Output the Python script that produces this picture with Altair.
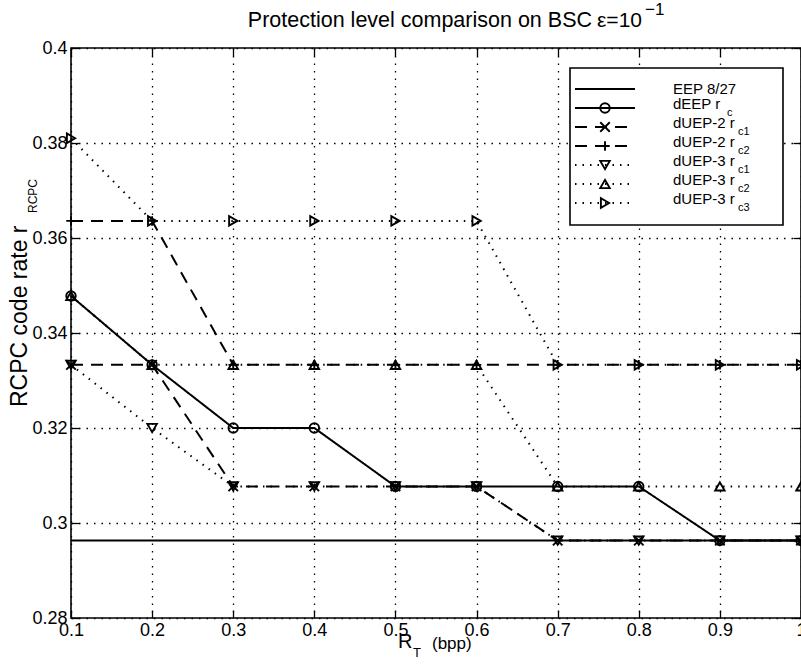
import altair as alt
import pandas as pd

# ---------------- data ----------------
rt = [0.1, 0.2, 0.3, 0.4, 0.5, 0.6, 0.7, 0.8, 0.9, 1.0]
eep_8_27 = [0.2963, 0.2963, 0.2963, 0.2963, 0.2963, 0.2963, 0.2963, 0.2963, 0.2963, 0.2963]
deep_rc = [0.3478, 0.3333, 0.3200, 0.3200, 0.3077, 0.3077, 0.3077, 0.3077, 0.2963, 0.2963]
duep2_rc1 = [0.3333, 0.3333, 0.3077, 0.3077, 0.3077, 0.3077, 0.2963, 0.2963, 0.2963, 0.2963]
duep2_rc2 = [0.3636, 0.3636, 0.3333, 0.3333, 0.3333, 0.3333, 0.3333, 0.3333, 0.3333, 0.3333]
duep3_rc1 = [0.3333, 0.3200, 0.3077, 0.3077, 0.3077, 0.3077, 0.2963, 0.2963, 0.2963, 0.2963]
duep3_rc2 = [0.3478, 0.3333, 0.3333, 0.3333, 0.3333, 0.3333, 0.3077, 0.3077, 0.3077, 0.3077]
duep3_rc3 = [0.3810, 0.3636, 0.3636, 0.3636, 0.3636, 0.3636, 0.3333, 0.3333, 0.3333, 0.3333]

series_names = ["EEP 8/27", "dEEP r_c", "dUEP-2 r_c1", "dUEP-2 r_c2",
                "dUEP-3 r_c1", "dUEP-3 r_c2", "dUEP-3 r_c3"]
series_values = [eep_8_27, deep_rc, duep2_rc1, duep2_rc2, duep3_rc1, duep3_rc2, duep3_rc3]
legend_main = ["EEP 8/27", "dEEP r", "dUEP-2 r", "dUEP-2 r",
               "dUEP-3 r", "dUEP-3 r", "dUEP-3 r"]
legend_sub = ["", "c", "c1", "c2", "c1", "c2", "c3"]

x_ticks = [0.1, 0.2, 0.3, 0.4, 0.5, 0.6, 0.7, 0.8, 0.9, 1.0]
y_ticks = [0.28, 0.30, 0.32, 0.34, 0.36, 0.38, 0.40]

title_text = "Protection level comparison on BSC"
title_eps = "\u03b5=10"
title_sup = "\u22121"
x_title = "R"
x_title_sub = "T"
x_title_unit = "(bpp)"
y_title = "RCPC code rate r"
y_title_sub = "RCPC"

# ---------------- styles ----------------
FONT = "Liberation Sans"
DOT = [1.5, 6]
DASH = [12, 8]
SOLID = [1, 0]
dash_range = [SOLID, SOLID, DASH, DASH, DOT, DOT, DOT]
X_PATH = "M-1,-1L1,1M-1,1L1,-1"
PLUS_PATH = "M-1,0L1,0M0,-1L0,1"
shape_range = ["circle", "circle", X_PATH, PLUS_PATH, "triangle-down", "triangle-up", "triangle-right"]

rows = []
for name, vals in zip(series_names, series_values):
    for xv, yv in zip(rt, vals):
        rows.append({"series": name, "rt": xv, "rate": yv})
df = pd.DataFrame(rows)

leg_df = pd.DataFrame({"row": list(range(len(series_names))), "series": series_names,
                       "main": legend_main, "sub": legend_sub})
txt_df = pd.DataFrame({"title": [title_text], "eps": [title_eps], "sup": [title_sup],
                       "xt": [x_title], "xs": [x_title_sub], "xu": [x_title_unit],
                       "yt": [y_title], "ys": [y_title_sub]})

x_scale = alt.Scale(domain=[0.1, 1.0], nice=False, zero=False)
y_scale = alt.Scale(domain=[0.28, 0.40], nice=False, zero=False)
dash_scale = alt.Scale(domain=series_names, range=dash_range)
shape_scale = alt.Scale(domain=series_names, range=shape_range)

common_axis = dict(domain=False, tickSize=8, tickColor="black", tickWidth=1.3, offset=-8,
                   title=None, gridDash=DOT, gridColor="black", gridOpacity=1, gridWidth=1.3)
label_axis = dict(labelFont=FONT, labelFontSize=18, labelColor="black",
                  labelFlush=False, labelOverlap=False)

lines = alt.Chart(df).mark_line(color="black", strokeWidth=2).encode(
    x=alt.X("rt:Q", scale=x_scale,
            axis=alt.Axis(orient="bottom", values=x_ticks, format="~g", grid=True,
                          labelPadding=3, **common_axis, **label_axis)),
    y=alt.Y("rate:Q", scale=y_scale,
            axis=alt.Axis(orient="left", values=y_ticks, format="~g", grid=True,
                          labelPadding=4, **common_axis, **label_axis)),
    strokeDash=alt.StrokeDash("series:N", scale=dash_scale, legend=None),
    detail="series:N",
    order="rt:Q",
)

points = alt.Chart(df).transform_filter(
    alt.datum.series != "EEP 8/27"
).mark_point(color="black", filled=False, strokeWidth=1.9, size=90, opacity=1).encode(
    x=alt.X("rt:Q", scale=x_scale,
            axis=alt.Axis(orient="top", values=x_ticks, labels=False, grid=False, **common_axis)),
    y=alt.Y("rate:Q", scale=y_scale,
            axis=alt.Axis(orient="right", values=y_ticks, labels=False, grid=False, **common_axis)),
    shape=alt.Shape("series:N", scale=shape_scale, legend=None),
)

main = alt.layer(lines, points).resolve_axis(x="independent", y="independent")

# ---------------- legend (custom, drawn from the series lists) ----------------
row_y = alt.Y("row:Q", scale=alt.Scale(domain=[0, 6], range=[41, 155], nice=False, zero=False), axis=None)

box = alt.Chart(leg_df).transform_filter(alt.datum.row == 0).mark_rect(
    fill="white", stroke="black", strokeWidth=1.6
).encode(x=alt.value(499), x2=alt.value(712), y=alt.value(20), y2=alt.value(177))

samples = alt.Chart(leg_df).mark_rule(color="black", strokeWidth=2).encode(
    x=alt.value(504), x2=alt.value(564), y=row_y,
    strokeDash=alt.StrokeDash("series:N", scale=dash_scale, legend=None),
)

leg_pts = alt.Chart(leg_df).transform_filter(alt.datum.row > 0).mark_point(
    color="black", filled=False, strokeWidth=1.9, size=90, opacity=1
).encode(x=alt.value(534), y=row_y,
         shape=alt.Shape("series:N", scale=shape_scale, legend=None))

txt_plain = alt.Chart(leg_df).transform_filter(alt.datum.row == 0).mark_text(
    align="left", baseline="middle", font=FONT, fontSize=15, color="black"
).encode(x=alt.value(602), y=row_y, text="main:N")

txt_main = alt.Chart(leg_df).transform_filter(alt.datum.row > 0).mark_text(
    align="left", baseline="middle", font=FONT, fontSize=15, color="black", dy=-4
).encode(x=alt.value(602), y=row_y, text="main:N")

txt_sub_c = alt.Chart(leg_df).transform_filter(alt.datum.row == 1).mark_text(
    align="left", baseline="middle", font=FONT, fontSize=11, color="black", dy=5
).encode(x=alt.value(656), y=row_y, text="sub:N")

txt_sub = alt.Chart(leg_df).transform_filter(alt.datum.row > 1).mark_text(
    align="left", baseline="middle", font=FONT, fontSize=11, color="black", dy=5
).encode(x=alt.value(667), y=row_y, text="sub:N")

# ---------------- titles ----------------
base_t = alt.Chart(txt_df)
t1 = base_t.mark_text(align="right", baseline="alphabetic", font=FONT, fontSize=21.5, color="black").encode(
    x=alt.value(521), y=alt.value(-21), text="title:N")
t2 = base_t.mark_text(align="left", baseline="alphabetic", font=FONT, fontSize=21, color="black").encode(
    x=alt.value(526), y=alt.value(-21), text="eps:N")
t3 = base_t.mark_text(align="left", baseline="alphabetic", font=FONT, fontSize=17, color="black").encode(
    x=alt.value(574), y=alt.value(-33), text="sup:N")
xt1 = base_t.mark_text(align="left", baseline="alphabetic", font=FONT, fontSize=20, color="black").encode(
    x=alt.value(327), y=alt.value(600), text="xt:N")
xt2 = base_t.mark_text(align="left", baseline="alphabetic", font=FONT, fontSize=13, color="black").encode(
    x=alt.value(342), y=alt.value(609), text="xs:N")
xt3 = base_t.mark_text(align="left", baseline="alphabetic", font=FONT, fontSize=17, color="black").encode(
    x=alt.value(361), y=alt.value(601), text="xu:N")
yt1 = base_t.mark_text(align="left", baseline="alphabetic", font=FONT, fontSize=23, color="black", angle=270).encode(
    x=alt.value(-44), y=alt.value(359), text="yt:N")
yt2 = base_t.mark_text(align="left", baseline="alphabetic", font=FONT, fontSize=12, color="black", angle=270).encode(
    x=alt.value(-34), y=alt.value(165), text="ys:N")

legend = alt.layer(box, samples, leg_pts, txt_plain, txt_main, txt_sub_c, txt_sub,
                   t1, t2, t3, xt1, xt2, xt3, yt1, yt2)

chart = alt.layer(main, legend).resolve_scale(y="independent").properties(
    width=730, height=570,
    padding={"left": 71, "top": 48, "right": 0, "bottom": 49},
    autosize=alt.AutoSizeParams(type="none"),
).configure_view(stroke="black", strokeWidth=1.6)

chart.save("out.html", embed_options={"renderer": "svg", "actions": False})
